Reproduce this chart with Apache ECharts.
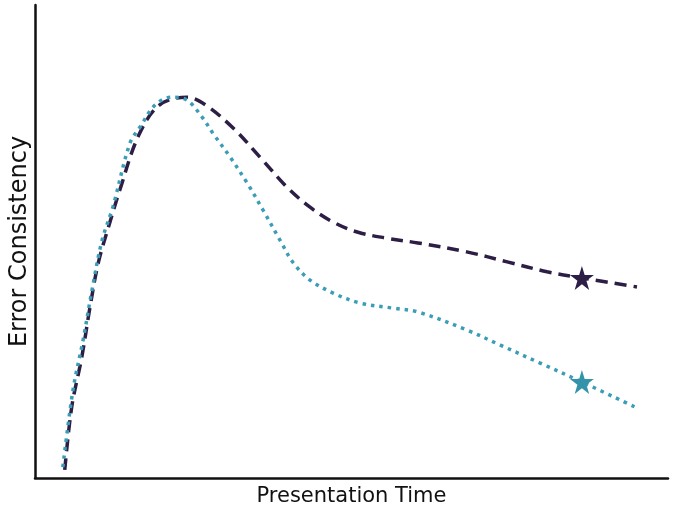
<!DOCTYPE html>
<html>
<head>
<meta charset="utf-8">
<script src="https://cdn.jsdelivr.net/npm/echarts@6/dist/echarts.min.js"></script>
<style>
    html, body { margin: 0; padding: 0; background: #fff; }
    #chart { width: 674px; height: 507px; }
</style>
</head>
<body>
<div id="chart"></div>
<script>
// 读图估计的数据（x: 0-100, y: 0-100）
const darkX = [4.7, 5.8, 7.4, 8.7, 10.0, 11.8, 13.4, 16.4, 19.7, 24.0, 26.9, 31.3, 35.5, 39.8, 43.4, 47.1, 50.9, 55.6, 60.5, 68.2, 74.6, 80.9, 86.4, 95.1];
const darkY = [1.7, 15.0, 25.6, 36.2, 45.5, 53.9, 60.9, 72.5, 78.9, 80.5, 78.9, 74.0, 67.9, 61.5, 57.3, 54.1, 52.0, 50.7, 49.7, 47.8, 45.7, 43.6, 42.3, 40.4];
const tealX = [4.4, 6.0, 7.6, 9.0, 10.6, 12.3, 15.0, 16.6, 19.0, 21.6, 24.0, 26.4, 28.1, 30.8, 33.5, 36.0, 38.7, 40.8, 43.4, 47.1, 51.3, 56.6, 60.5, 68.2, 73.5, 79.8, 86.4, 94.8];
const tealY = [2.3, 18.6, 29.2, 39.7, 50.3, 57.3, 70.8, 74.2, 78.9, 80.5, 79.9, 76.3, 72.9, 67.9, 62.4, 56.7, 50.3, 45.5, 41.9, 39.1, 37.0, 35.9, 35.1, 31.3, 28.1, 24.3, 20.3, 15.0];
const starX = [86.4, 86.4];
const starY = [42.3, 20.3];

const darkColor = '#2d1e45';
const tealColor = '#3a9db5';
const starPath = 'path://M50,0 L61,35 L98,35 L68,57 L79,92 L50,70 L21,92 L32,57 L2,35 L39,35 Z';
const fontFamily = '"DejaVu Sans", sans-serif';

const zip = (xs, ys) => xs.map((x, i) => [x, ys[i]]);

let chart = echarts.init(document.getElementById('chart'));
chart.setOption({
    animation: false,
    grid: {left: 35, right: 6, top: 5, bottom: 29, containLabel: false, outerBoundsMode: 'none'},
    xAxis: {
        type: 'value', min: 0, max: 100,
        name: 'Presentation Time',
        nameLocation: 'middle',
        nameGap: 8,
        nameTextStyle: {color: '#111', fontSize: 21, fontFamily: fontFamily},
        axisLine: {show: true, lineStyle: {color: '#111', width: 2.5}},
        axisTick: {show: false},
        axisLabel: {show: false},
        splitLine: {show: false}
    },
    yAxis: {
        type: 'value', min: 0, max: 100,
        name: 'Error Consistency',
        nameLocation: 'middle',
        nameGap: 3,
        nameTextStyle: {color: '#111', fontSize: 24, fontFamily: fontFamily},
        axisLine: {show: true, lineStyle: {color: '#111', width: 2.5}},
        axisTick: {show: false},
        axisLabel: {show: false},
        splitLine: {show: false}
    },
    series: [{
        type: 'line',
        data: zip(darkX, darkY),
        smooth: 0.35,
        showSymbol: false,
        lineStyle: {color: darkColor, width: 3.5, type: [12, 7]}
    }, {
        type: 'line',
        data: zip(tealX, tealY),
        smooth: 0.35,
        showSymbol: false,
        lineStyle: {color: tealColor, width: 3.5, type: [3.5, 5]}
    }, {
        type: 'scatter',
        data: zip(starX, starY),
        symbol: starPath,
        symbolSize: 24,
        itemStyle: {
            opacity: 1,
            color: function (p) { return p.dataIndex === 0 ? darkColor : '#3593a9'; }
        },
        z: 5
    }]
});
</script>
</body>
</html>
